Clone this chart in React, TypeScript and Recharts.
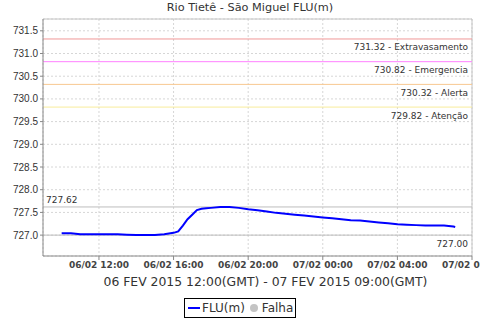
import { CartesianGrid, Label, Line, LineChart, ReferenceLine, XAxis, YAxis } from 'recharts'

// hours after 06/02 09:00 GMT
const hours = [
  1, 1.5, 2, 2.5, 3, 3.5, 4, 4.5, 5, 5.5, 6, 6.5, 7, 7.25, 7.5, 7.75, 8, 8.25, 8.5, 8.75, 9, 9.5, 10,
  10.5, 11, 11.5, 12, 12.5, 13, 13.5, 14, 14.5, 15, 15.5, 16, 16.5, 17, 17.5, 18, 18.5, 19, 19.5, 20,
  20.5, 21, 21.5, 22, 22.1,
]
const flu = [
  727.04, 727.04, 727.02, 727.02, 727.02, 727.02, 727.02, 727.01, 727.0, 727.0, 727.0, 727.02, 727.05,
  727.08, 727.21, 727.35, 727.45, 727.55, 727.58, 727.59, 727.6, 727.62, 727.62, 727.6, 727.57, 727.55,
  727.52, 727.49, 727.47, 727.45, 727.43, 727.41, 727.39, 727.37, 727.35, 727.33, 727.32, 727.3,
  727.28, 727.26, 727.24, 727.23, 727.22, 727.21, 727.21, 727.21, 727.19, 727.18,
]

const xTicks = [3, 7, 11, 15, 19, 23]
const xTickLabels = ['06/02 12:00', '06/02 16:00', '06/02 20:00', '07/02 00:00', '07/02 04:00', '07/02 08:00']
const yTicks = [727.0, 727.5, 728.0, 728.5, 729.0, 729.5, 730.0, 730.5, 731.0, 731.5]
const yMin = 726.54
const yMax = 731.76

const levels = [731.32, 730.82, 730.32, 729.82]
const levelNames = ['Extravasamento', 'Emergencia', 'Alerta', 'Atenção']
const levelColors = ['#f09898', '#ff80ff', '#f8c890', '#f8ec9c']
const maxValue = 727.62
const minValue = 727.0

const data = hours.map((h, i) => ({ h, flu: flu[i] }))

const font = 'DejaVu Sans'

const rightLabel = (text: string) => (props: any) => {
  const { x, y, width } = props.viewBox
  return (
    <text x={x + width - 4} y={y + 11.5} textAnchor="end" fontSize={9} fontFamily={font} fill="#333">
      {text}
    </text>
  )
}

const leftLabel = (text: string) => (props: any) => {
  const { x, y } = props.viewBox
  return (
    <text x={x + 3} y={y - 4} fontSize={9} fontFamily={font} fill="#333">
      {text}
    </text>
  )
}

export default function App() {
  return (
    <div style={{ position: 'absolute', left: 0, top: 0, width: 480, height: 320, background: '#fff', fontFamily: font }}>
      <div style={{ position: 'absolute', top: 1, left: 0, width: 480, textAlign: 'center', paddingLeft: 20, boxSizing: 'border-box', fontSize: 11.3, color: '#333' }}>
        Rio Tietê - São Miguel FLU(m)
      </div>
      <LineChart width={480} height={320} data={data} margin={{ top: 19, right: 8, bottom: 0, left: 0 }}>
        <CartesianGrid strokeDasharray="2 2" stroke="#d6d6d6" />
        <XAxis
          dataKey="h"
          type="number"
          domain={[0, 23]}
          ticks={xTicks}
          tickFormatter={(v: number) => xTickLabels[xTicks.indexOf(v)]}
          height={64}
          tickSize={4}
          stroke="#888"
          tick={{ fontSize: 9, fontFamily: font, fontWeight: 'bold', fill: '#444' }}
          interval={0}
        >
          <Label
            value="06 FEV 2015 12:00(GMT) - 07 FEV 2015 09:00(GMT)"
            position="insideBottom"
            offset={34}
            dx={8}
            style={{ fontSize: 12.4, fontFamily: font, fill: '#333' }}
          />
        </XAxis>
        <YAxis
          type="number"
          domain={[yMin, yMax]}
          ticks={yTicks}
          allowDataOverflow
          width={43}
          tickSize={3}
          stroke="#888"
          tickFormatter={(v: number) => v.toFixed(1)}
          tick={{ fontSize: 10, fontFamily: 'Liberation Sans', fill: '#333' }}
          interval={0}
        />
        <ReferenceLine y={yMax} stroke="#c4c4c4" />
        <ReferenceLine x={23} stroke="#c4c4c4" />
        {levels.map((v, i) => (
          <ReferenceLine
            key={v}
            y={v}
            stroke={levelColors[i]}
            strokeWidth={1}
            label={rightLabel(`${v.toFixed(2)} - ${levelNames[i]}`)}
          />
        ))}
        <ReferenceLine y={maxValue} stroke="#bdbdbd" label={leftLabel(maxValue.toFixed(2))} />
        <ReferenceLine y={minValue} stroke="#bdbdbd" label={rightLabel(minValue.toFixed(2))} />
        <Line
          dataKey="flu"
          type="linear"
          stroke="#0000ff"
          strokeWidth={2}
          dot={false}
          isAnimationActive={false}
        />
      </LineChart>
      <div
        style={{
          position: 'absolute',
          left: 184,
          top: 298,
          width: 112,
          height: 20,
          border: '1px solid #000',
          display: 'flex',
          alignItems: 'center',
          fontSize: 12,
          color: '#333',
          boxSizing: 'border-box',
        }}
      >
        <span style={{ display: 'inline-block', width: 12, height: 2, background: '#0000ff', marginLeft: 3, marginRight: 2 }} />
        <span>FLU(m)</span>
        <span style={{ display: 'inline-block', width: 8, height: 8, borderRadius: 4, background: '#c4c4c4', marginLeft: 5, marginRight: 4 }} />
        <span>Falha</span>
      </div>
    </div>
  )
}
